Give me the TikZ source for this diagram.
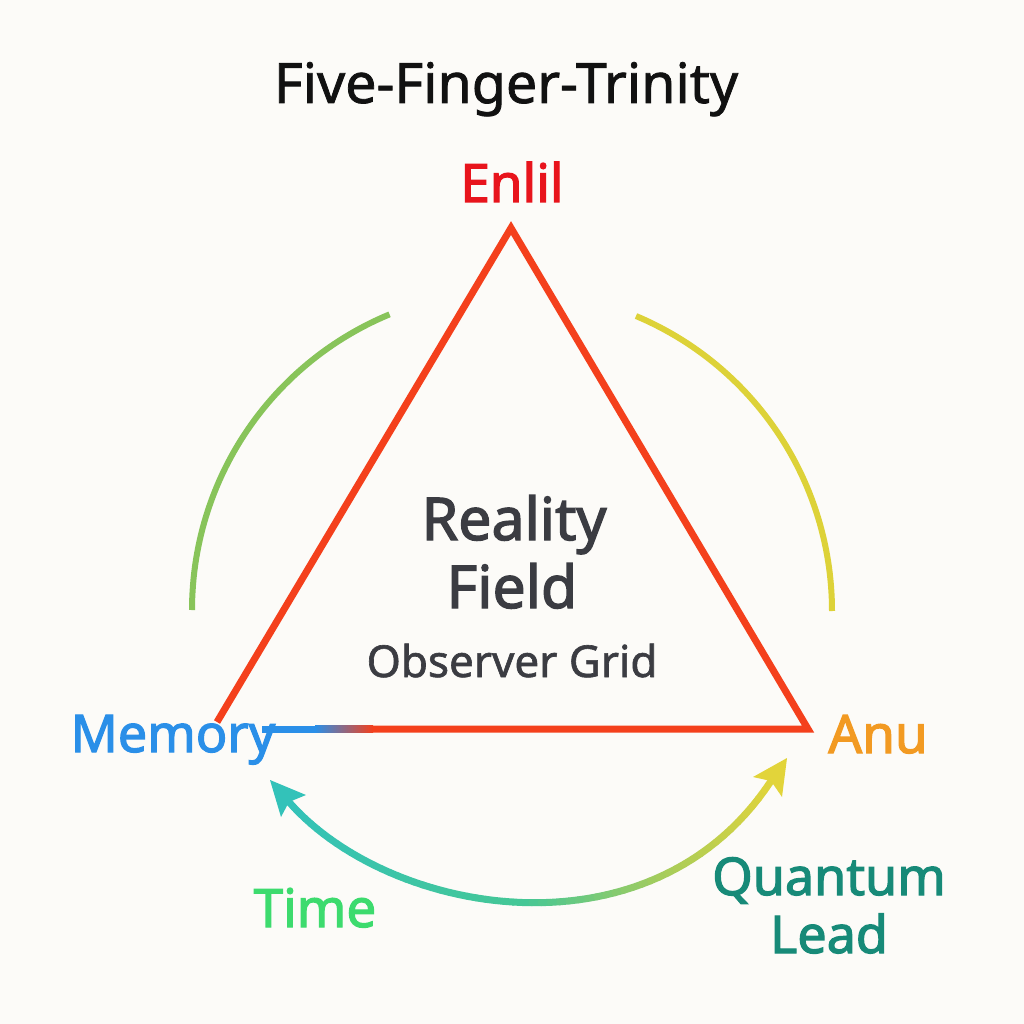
\documentclass[tikz,border=0pt]{standalone}
\usepackage{fontspec}
\setmainfont{Noto Sans}
\newfontfamily\semib{Noto Sans}[FakeBold=2.3]
\newfontfamily\medf{Noto Sans}[FakeBold=1.4]
\usetikzlibrary{calc}
\definecolor{bg}{HTML}{FCFBF8}
\definecolor{titlec}{HTML}{111111}
\definecolor{enlilc}{HTML}{E8141C}
\definecolor{trired}{HTML}{F4401C}
\definecolor{memblue}{HTML}{2A8FE8}
\definecolor{anuor}{HTML}{F29A22}
\definecolor{grayc}{HTML}{3B3C42}
\definecolor{arcgreen}{HTML}{88C45A}
\definecolor{arcyellow}{HTML}{DDD238}
\definecolor{timegreen}{HTML}{3DDB6E}
\definecolor{qteal}{HTML}{178A78}
\definecolor{cA}{HTML}{33C2B9}
\definecolor{cB}{HTML}{45C796}
\definecolor{cC}{HTML}{A5CC5C}
\definecolor{cD}{HTML}{E2D43A}
\tikzset{
  lbl/.style={anchor=base, inner sep=0pt},
  tri/.style={draw=trired, line width=7pt, line join=miter},
  sidearc/.style={line width=6pt, line cap=butt},
  seg/.style={line width=7pt, line cap=round},
}
\begin{document}
\begin{tikzpicture}[x=1pt,y=-1pt]
\fill[bg] (0,0) rectangle (1024,1024);
\useasboundingbox (0,0) rectangle (1024,1024);

% triangle vertices
\coordinate (apex) at (511,228);
\coordinate (rv) at (808,729);
\coordinate (lend) at (217,722);
\coordinate (bmid) at (372,729);
\coordinate (bstart) at (262,729);

% side arcs
\draw[sidearc, arcgreen] plot[domain=180:247.5, samples=60] ({512+320*cos(\x)},{610+320*sin(\x)});
\draw[sidearc, arcyellow] plot[domain=292.8:360, samples=60] ({512+320*cos(\x)},{611+320*sin(\x)});

% triangle
\draw[tri] (lend) -- (apex) -- (rv) -- (bmid);
\fill[memblue] (bstart) ++(0,-3.5) rectangle (316,732.5);
\shade[left color=memblue, right color=trired] (315,725.5) rectangle (373,732.5);

% bottom double arrow with gradient
\coordinate (p0) at (289,802);
\coordinate (p1) at (389,916);
\coordinate (p2) at (651,963);
\coordinate (p3) at (771,781);
\path (p0) .. controls (p1) and (p2) .. (p3)
  \foreach \i in {0,...,60} { coordinate[pos=\i/60] (q\i) };
\foreach \i in {0,...,29}{
  \pgfmathtruncatemacro\j{\i+1}
  \pgfmathtruncatemacro\p{100-\i*100/30}
  \draw[seg, color=cA!\p!cB] (q\i) -- (q\j);
}
\foreach \i in {30,...,44}{
  \pgfmathtruncatemacro\j{\i+1}
  \pgfmathtruncatemacro\p{100-(\i-30)*100/15}
  \draw[seg, color=cB!\p!cC] (q\i) -- (q\j);
}
\foreach \i in {45,...,59}{
  \pgfmathtruncatemacro\j{\i+1}
  \pgfmathtruncatemacro\p{100-(\i-45)*100/15}
  \draw[seg, color=cC!\p!cD] (q\i) -- (q\j);
}
% arrowheads
\coordinate (ltip) at (270,780);
\coordinate (rtip) at (787,758);
\fill[cA] (ltip) -- (306,795) -- (p0) -- (281,817) -- cycle;
\fill[cD] (rtip) -- (753,777) -- (p3) -- (782,797) -- cycle;

% texts
\node[lbl, text=titlec, font=\medf\fontsize{55.5}{62}\selectfont] (title) at (506,103) {Five-Finger-Trinity};
\node[lbl, text=enlilc, font=\semib\fontsize{53}{60}\selectfont] (enlil) at (512,202) {Enlil};
\node[lbl, text=grayc, font=\semib\fontsize{59}{66}\selectfont] (reality) at (514,540) {Reality};
\node[lbl, text=grayc, font=\semib\fontsize{59}{66}\selectfont] (field) at (512,608) {Field};
\node[lbl, text=grayc, font=\medf\fontsize{44}{50}\selectfont] (observer) at (512,677) {Observer Grid};
\node[lbl, text=memblue, font=\semib\fontsize{52}{60}\selectfont] (memory) at (173,752) {Memory};
\node[lbl, text=anuor, font=\semib\fontsize{53}{60}\selectfont] (anu) at (878,753) {Anu};
\node[lbl, text=timegreen, font=\semib\fontsize{53}{60}\selectfont] (time) at (315,927) {Time};
\node[lbl, text=qteal, font=\semib\fontsize{52}{58}\selectfont] (quantum) at (829,895) {Quantum};
\node[lbl, text=qteal, font=\semib\fontsize{52}{58}\selectfont] (lead) at (829,953) {Lead};
\end{tikzpicture}
\end{document}
